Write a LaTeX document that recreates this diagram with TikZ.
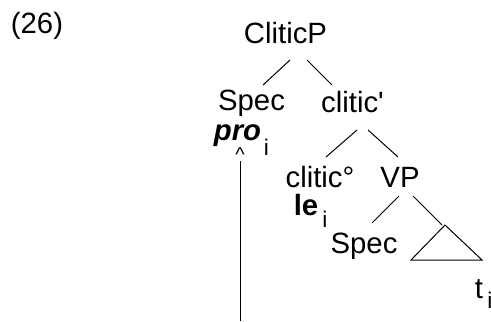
\documentclass[tikz,border=0pt]{standalone}
\usepackage{fontspec}
\setmainfont{Liberation Sans}
\usetikzlibrary{calc}

\begin{document}
\begin{tikzpicture}[
    x=0.75pt, y=-0.75pt,
    cat/.style={anchor=base, inner sep=0pt, font=\fontsize{22}{26}\selectfont},
    idx/.style={anchor=base, inner sep=0pt, font=\fontsize{17}{20}\selectfont},
    branch/.style={draw, line width=0.75pt}
]
    \useasboundingbox (0,0) rectangle (491,321);

    % Example number
    \node[cat] (num) at (37,34) {(26)};

    % Tree nodes
    \node[cat] (cp) at (285.5,44) {CliticP};
    \node[cat] (spec1) at (251.5,110) {Spec};
    \node[cat] (cbar) at (352.5,112) {clitic\textquotesingle};
    \node[cat] (pro) at (237.5,140) {\textbf{\textit{pro}}};
    \node[idx] (proi) at (266.5,155) {i};
    \node[cat] (c0) at (320,187) {clitic°};
    \node[cat] (vp) at (400,187) {VP};
    \node[cat] (le) at (306,215) {\textbf{le}};
    \node[idx] (lei) at (325,227) {i};
    \node[cat] (spec2) at (364,253) {Spec};
    \node[cat] (t) at (479,298) {t};
    \node[idx] (ti) at (490,308) {i};

    % Branches
    \draw[branch] ($(cp.base)+(4.5,16)$) -- ($(spec1.base)+(11.5,-25)$);
    \draw[branch] ($(cp.base)+(21.5,16)$) -- ($(cbar.base)+(-20.5,-27)$);
    \draw[branch] ($(cbar.base)+(4.5,18)$) -- ($(c0.base)+(6,-30)$);
    \draw[branch] ($(cbar.base)+(15.5,18)$) -- ($(vp.base)+(-2,-30)$);
    \draw[branch] ($(vp.base)+(-1,9)$) -- ($(spec2.base)+(8,-30)$);

    % Roof over the VP complement
    \coordinate (roof) at (445,225);
    \draw[branch] ($(vp.base)+(13,9)$) -- ($(roof)+(-3,0)$);
    \draw[branch] (roof) -- ++(-34,35) -- ++(71,0) -- cycle;

    % Movement line up to pro
    \node[anchor=base, inner sep=0pt, font=\fontsize{15}{18}\selectfont] (caret) at (240,161) {\textasciicircum};
    \coordinate (trace) at (240,321);
    \draw[branch] (trace) -- (caret.south);
\end{tikzpicture}
\end{document}
